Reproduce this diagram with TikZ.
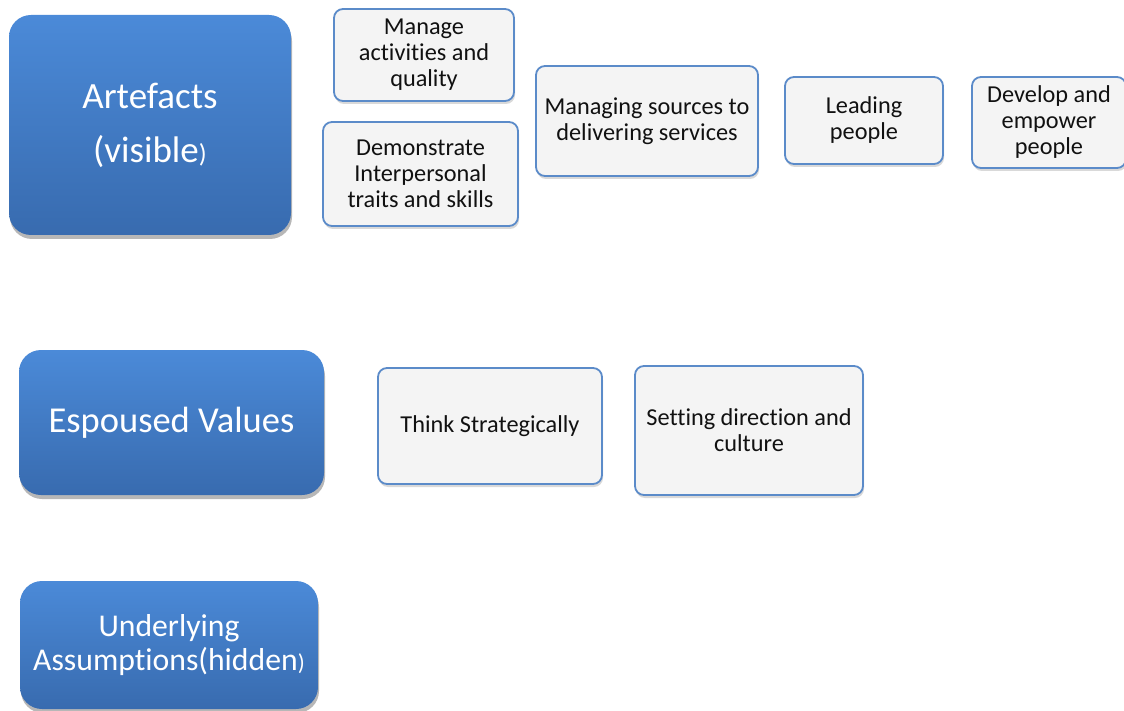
\documentclass[tikz,border=0pt]{standalone}
\usepackage{fontspec}
\setmainfont{Carlito}[RawFeature={-liga;-calt;-clig}]
\usetikzlibrary{shadows}
\definecolor{bigtop}{HTML}{4B8AD8}
\definecolor{bigbot}{HTML}{386BAF}
\definecolor{smallfill}{HTML}{F4F4F4}
\definecolor{smalldraw}{HTML}{5B8BC9}
\definecolor{txt}{HTML}{111111}
\tikzset{
  bigbox/.style={rectangle, rounded corners=22pt, top color=bigtop, bottom color=bigbot,
    draw=none, text=white, align=center, inner sep=0pt,
    drop shadow={shadow xshift=1pt, shadow yshift=-4pt, opacity=0.4, fill=black!70}},
  smallbox/.style={rectangle, rounded corners=9pt, fill=smallfill, draw=smalldraw,
    line width=1.8pt, text=txt, align=center, inner sep=0pt,
    font=\fontsize{24.3pt}{26pt}\selectfont,
    drop shadow={shadow xshift=1pt, shadow yshift=-3pt, opacity=0.25, fill=black!60}}
}
\begin{document}
\begin{tikzpicture}[x=1pt,y=-1pt]
\useasboundingbox (0,0) rectangle (1124,711);
\node[bigbox, minimum width=282pt, minimum height=220pt, font=\fontsize{37pt}{54pt}\selectfont] (art) at (150,125) {Artefacts\\(visible{\fontsize{26pt}{26pt}\selectfont)}};
\node[bigbox, minimum width=305pt, minimum height=145pt, font=\fontsize{36.5pt}{40pt}\selectfont] (esp) at (171.5,422.5) {Espoused Values};
\node[bigbox, minimum width=298pt, minimum height=128pt, font=\fontsize{31.7pt}{34pt}\selectfont] (und) at (169,645) {Underlying\\Assumptions(hidden{\fontsize{23pt}{23pt}\selectfont)}};
\node[smallbox, minimum width=180pt, minimum height=92pt] (man) at (424,55) {Manage\\activities and\\quality};
\node[smallbox, minimum width=195pt, minimum height=104pt] (dem) at (420.5,174) {Demonstrate\\Interpersonal\\traits and skills};
\node[smallbox, minimum width=222pt, minimum height=110pt] (src) at (647,121) {Managing sources to\\delivering services};
\node[smallbox, minimum width=158pt, minimum height=87pt] (lead) at (864,120.5) {Leading\\people};
\node[smallbox, minimum width=154pt, minimum height=91pt] (dev) at (1049,122.5) {Develop and\\empower\\people};
\node[smallbox, minimum width=224pt, minimum height=116pt] (think) at (490,426) {Think Strategically};
\node[smallbox, minimum width=228pt, minimum height=129pt] (set) at (749,430.5) {Setting direction and\\culture};
\end{tikzpicture}
\end{document}
